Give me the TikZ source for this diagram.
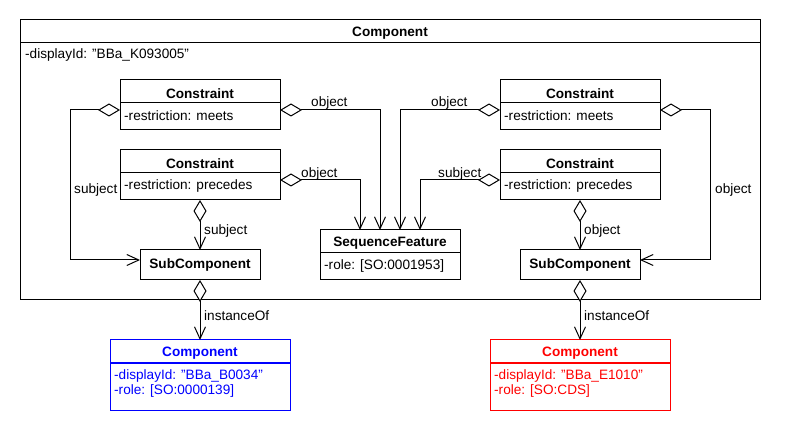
\documentclass[tikz,border=0pt]{standalone}
\usepackage{fontspec}
\setmainfont{Liberation Sans}
\usetikzlibrary{arrows.meta}
\newcommand{\dq}{\symbol{34}}
\begin{document}
\begin{tikzpicture}[x=1pt,y=-1pt,
  every node/.style={font=\fontsize{13.6pt}{15pt}\selectfont},
  box/.style={draw, line width=1pt, rectangle, inner sep=0pt, outer sep=0pt, anchor=north west},
  hdr/.style={font=\fontsize{13.6pt}{15pt}\selectfont\bfseries, inner sep=0pt, yshift=-1.5pt},
  attr/.style={inner sep=0pt, anchor=west, yshift=-1.5pt},
  lbl/.style={inner sep=0pt, anchor=west, yshift=-1.5pt},
  divider/.style={line width=1pt},
  agg/.style={line width=1pt, {Diamond[fill=white,length=22pt,width=13pt]}-{Straight Barb[length=12pt,width=11pt]}},
]
\useasboundingbox (0,0) rectangle (790,430);

% outer component
\node[box, minimum width=740pt, minimum height=280pt] (outer) at (20,20) {};
\draw[divider] ([yshift=-23pt]outer.north west) -- ([yshift=-23pt]outer.north east);
\node[hdr] (outerT) at ([yshift=-12pt]outer.north) {Component};
\node[attr] (outerA) at (25,53) {-displayId: \dq BBa\_K093005\dq};

% constraints
\foreach \n/\px/\py/\r in {c1/120/80/meets, c2/120/150/precedes, c3/500/80/meets, c4/500/150/precedes}{
  \node[box, minimum width=160pt, minimum height=50pt] (\n) at (\px,\py) {};
  \draw[divider] ([yshift=-23pt]\n.north west) -- ([yshift=-23pt]\n.north east);
  \node[hdr] (\n T) at ([yshift=-12pt]\n.north) {Constraint};
  \node[attr] (\n A) at ([xshift=4pt,yshift=-9.5pt]\n.west) {-restriction: \r};
}

% subcomponents
\node[box, minimum width=120pt, minimum height=30pt, font=\fontsize{13.6pt}{15pt}\selectfont\bfseries] (s1) at (140,250) {SubComponent};
\node[box, minimum width=120pt, minimum height=30pt, font=\fontsize{13.6pt}{15pt}\selectfont\bfseries] (s2) at (520,250) {SubComponent};

% sequence feature
\node[box, minimum width=140pt, minimum height=50pt] (sf) at (320,230) {};
\draw[divider] ([yshift=-23pt]sf.north west) -- ([yshift=-23pt]sf.north east);
\node[hdr] (sfT) at ([yshift=-12pt]sf.north) {SequenceFeature};
\node[attr] (sfA) at ([xshift=4pt,yshift=-9.5pt]sf.west) {-role: [SO:0001953]};

% blue component
\node[box, draw=blue, minimum width=180pt, minimum height=70pt] (b1) at (110,340) {};
\draw[divider, blue] ([yshift=-23pt]b1.north west) -- ([yshift=-23pt]b1.north east);
\node[hdr, text=blue] (b1T) at ([yshift=-12pt]b1.north) {Component};
\node[attr, text=blue] (b1A) at (114,374) {-displayId: \dq BBa\_B0034\dq};
\node[attr, text=blue] (b1B) at (114,389) {-role: [SO:0000139]};

% red component
\node[box, draw=red, minimum width=180pt, minimum height=70pt] (r1) at (490,340) {};
\draw[divider, red] ([yshift=-23pt]r1.north west) -- ([yshift=-23pt]r1.north east);
\node[hdr, text=red] (r1T) at ([yshift=-12pt]r1.north) {Component};
\node[attr, text=red] (r1A) at (494,374) {-displayId: \dq BBa\_E1010\dq};
\node[attr, text=red] (r1B) at (494,389) {-role: [SO:CDS]};

% connectors
\draw[agg] ([yshift=-5pt]c1.west) -- ++(-50,0) |- ([yshift=5pt]s1.west);
\draw[agg] (c2.south) -- (s1.north);
\draw[agg] ([yshift=-5pt]c1.east) -| ([xshift=-10pt]sf.north);
\draw[agg] ([yshift=-5pt]c2.east) -| ([xshift=-30pt]sf.north);
\draw[agg] ([yshift=-5pt]c3.west) -| ([xshift=10pt]sf.north);
\draw[agg] ([yshift=-5pt]c4.west) -| ([xshift=30pt]sf.north);
\draw[agg] ([yshift=-5pt]c3.east) -- ++(50,0) |- ([yshift=5pt]s2.east);
\draw[agg] (c4.south) -- (s2.north);
\draw[agg] (s1.south) -- (b1.north);
\draw[agg] (s2.south) -- (r1.north);

% labels
\node[lbl] (l1) at (311,101) {object};
\node[lbl] (l2) at (74,188) {subject};
\node[lbl] (l3) at (204,229) {subject};
\node[lbl] (l4) at (301,172) {object};
\node[lbl] (l5) at (431,101) {object};
\node[lbl] (l6) at (438,172) {subject};
\node[lbl] (l7) at (715,188) {object};
\node[lbl] (l8) at (584,229) {object};
\node[lbl] (l9) at (204,314) {instanceOf};
\node[lbl] (l10) at (584,314) {instanceOf};
\end{tikzpicture}
\end{document}
